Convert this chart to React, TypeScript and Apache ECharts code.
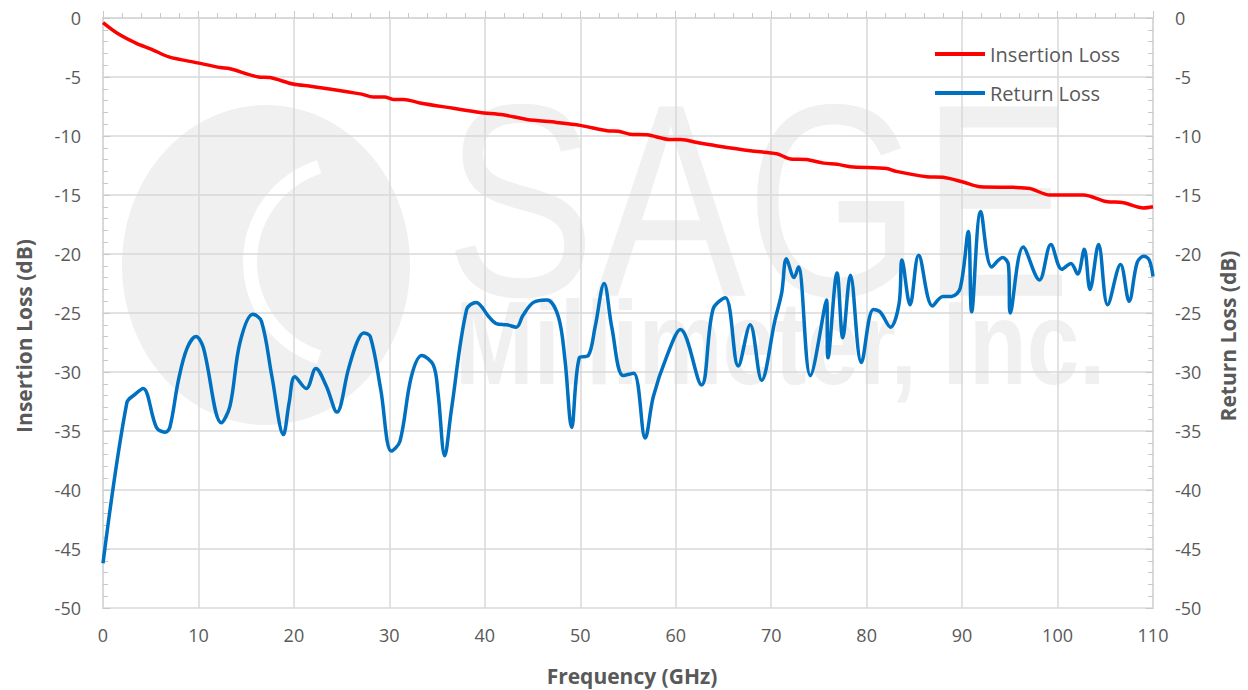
import React, { useEffect, useRef } from "react";
import * as echarts from "echarts";

// Insertion loss (red)
const ilFreq = [0, 1.5, 3.5, 5.1, 6.9, 9.9, 12.3, 13.3, 16.3, 17.5, 19.9, 21.9, 25.9, 27.1, 28.3, 29.5, 30.4, 31.5, 33.2, 36.7, 39.5, 41.9, 44.4, 47.5, 50.0, 52.8, 54.0, 55.2, 57.0, 59.4, 60.5, 62.5, 63.6, 67.8, 70.6, 72.0, 73.7, 75.5, 76.9, 78.3, 82.1, 83.1, 86.3, 88.0, 90.1, 91.9, 95.4, 97.1, 99.2, 102.7, 105.1, 106.9, 109.0, 110];
const ilDb = [-0.4, -1.3, -2.15, -2.65, -3.3, -3.8, -4.2, -4.3, -5.0, -5.05, -5.6, -5.8, -6.3, -6.45, -6.7, -6.7, -6.9, -6.9, -7.2, -7.65, -8.0, -8.2, -8.6, -8.85, -9.1, -9.55, -9.6, -9.85, -9.9, -10.3, -10.3, -10.6, -10.75, -11.25, -11.5, -11.95, -12.0, -12.3, -12.4, -12.6, -12.75, -13.0, -13.45, -13.5, -13.9, -14.3, -14.35, -14.45, -15.0, -15.0, -15.55, -15.65, -16.1, -16.0];

// Return loss (blue)
const rlFreq = [0, 2.5, 3.35, 4.2, 5.6, 6.5, 7.0, 7.9, 8.8, 9.75, 10.5, 12.4, 13.3, 14.35, 15.7, 16.6, 17.7, 18.9, 19.5, 20.1, 21.3, 22.3, 23.4, 24.5, 25.7, 26.6, 27.3, 28.0, 29.1, 30.2, 31.1, 32.3, 33.4, 34.6, 35.1, 35.8, 36.5, 38.1, 39.1, 40.4, 41.2, 42.3, 43.3, 44.0, 45.1, 46.5, 47.7, 48.4, 49.1, 49.9, 50.85, 51.55, 52.5, 53.3, 54.5, 55.6, 56.8, 57.65, 59.05, 60.5, 62.7, 63.9, 65.2, 66.55, 67.8, 69.0, 70.4, 71.1, 71.6, 72.4, 72.85, 74.1, 75.8, 75.95, 76.9, 77.5, 78.3, 79.45, 80.7, 81.4, 82.5, 83.4, 83.7, 84.55, 85.45, 86.9, 88.0, 88.9, 89.8, 90.65, 91.0, 91.95, 93.1, 94.25, 94.85, 95.05, 96.4, 98.1, 99.3, 100.45, 101.4, 102.1, 102.8, 103.4, 104.3, 105.25, 106.6, 107.5, 108.35, 109.05, 109.6, 110];
const rlDb = [-46.2, -32.6, -31.9, -31.4, -34.7, -35.1, -34.7, -30.7, -28.0, -27.0, -27.9, -34.3, -32.9, -27.5, -25.1, -25.7, -30.4, -35.3, -32.6, -30.4, -31.4, -29.7, -31.2, -33.4, -29.8, -27.5, -26.7, -27.0, -31.5, -36.7, -35.9, -30.4, -28.6, -29.4, -31.8, -37.1, -33.2, -24.7, -24.1, -25.3, -25.9, -26.0, -26.2, -25.2, -24.1, -23.9, -25.3, -29.0, -34.7, -28.8, -28.6, -26.2, -22.5, -26.2, -30.3, -30.1, -35.6, -32.1, -28.7, -26.4, -31.1, -24.7, -23.7, -29.5, -26.0, -30.7, -25.6, -23.3, -20.4, -22.0, -21.1, -30.3, -23.9, -28.8, -21.6, -27.1, -21.8, -29.2, -24.7, -24.9, -26.2, -24.2, -20.5, -24.3, -20.1, -24.4, -23.6, -23.6, -22.9, -18.1, -24.9, -16.4, -21.1, -20.3, -20.9, -25.0, -19.4, -22.2, -19.2, -21.3, -20.8, -21.7, -19.6, -23.0, -19.2, -24.3, -20.9, -24.0, -20.7, -20.2, -20.5, -21.9];

const seriesNames = ["Insertion Loss", "Return Loss"];
const xTitle = "Frequency (GHz)";
const yLeftTitle = "Insertion Loss (dB)";
const yRightTitle = "Return Loss (dB)";
const watermarkMain = "SAGE";
const watermarkSub = "Millimeter, Inc.";

const FONT = "'Open Sans', 'Liberation Sans', sans-serif";
const TXT = "#595959";
const GRID = "#d9d9d9";
const WM = "#f0f0f0";

export default function App() {
  const ref = useRef<HTMLDivElement>(null);
  useEffect(() => {
    if (!ref.current) return;
    const chart = echarts.init(ref.current, null, { renderer: "svg" });
    const il = ilFreq.map((f, i) => [f, ilDb[i]]);
    const rl = rlFreq.map((f, i) => [f, rlDb[i]]);
    const yAxisCommon = {
      type: "value",
      min: -50,
      max: 0,
      interval: 5,
      axisLine: { show: true, lineStyle: { color: GRID, width: 2 } },
      axisTick: { show: true, inside: true, length: 7, lineStyle: { color: "#c8c8c8" } },
      minorTick: { show: true, splitNumber: 5, length: 5, lineStyle: { color: "#c8c8c8" } },
      axisLabel: { color: TXT, fontFamily: FONT, fontSize: 18, margin: 22 },
    };
    const titleFont = `bold 21px ${FONT}`;
    chart.setOption({
      animation: false,
      backgroundColor: "#ffffff",
      grid: { left: 103, right: 95, top: 18, bottom: 82, containLabel: false },
      graphic: [
        {
          type: "group",
          z: -10,
          silent: true,
          children: [
            { type: "ellipse", shape: { cx: 266, cy: 265, rx: 144, ry: 160 }, style: { fill: WM } },
            {
              type: "arc",
              shape: { cx: 350, cy: 262, r: 100, startAngle: Math.PI * 0.6, endAngle: Math.PI * 1.4, clockwise: true },
              style: { stroke: "#ffffff", lineWidth: 14, fill: "none" },
            },
            {
              type: "group",
              x: 445,
              y: 200,
              scaleX: 0.82,
              children: [
                {
                  type: "text",
                  style: { text: watermarkMain, fill: WM, font: "275px 'Liberation Sans', Arial, sans-serif", textAlign: "left", textVerticalAlign: "middle" },
                },
              ],
            },
            {
              type: "group",
              x: 455,
              y: 343,
              scaleX: 0.8,
              children: [
                {
                  type: "text",
                  style: { text: watermarkSub, fill: WM, font: "bold 118px 'Liberation Sans', Arial, sans-serif", textAlign: "left", textVerticalAlign: "middle" },
                },
              ],
            },
          ],
        },
        {
          type: "text",
          x: 24,
          y: 336,
          rotation: Math.PI / 2,
          silent: true,
          style: { text: yLeftTitle, fill: TXT, font: titleFont, textAlign: "center", textVerticalAlign: "middle" },
        },
        {
          type: "text",
          x: 1228,
          y: 336,
          rotation: Math.PI / 2,
          silent: true,
          style: { text: yRightTitle, fill: TXT, font: titleFont, textAlign: "center", textVerticalAlign: "middle" },
        },
        {
          type: "text",
          x: 632,
          y: 676,
          silent: true,
          style: { text: xTitle, fill: TXT, font: titleFont, textAlign: "center", textVerticalAlign: "middle" },
        },
      ],
      legend: {
        orient: "vertical",
        left: 935,
        top: 44,
        padding: 0,
        itemGap: 19,
        itemWidth: 50,
        itemHeight: 4,
        icon: "rect",
        data: seriesNames,
        textStyle: { color: TXT, fontFamily: FONT, fontSize: 20 },
      },
      xAxis: {
        type: "value",
        min: 0,
        max: 110,
        interval: 10,
        axisLine: { show: true, lineStyle: { color: GRID, width: 2 } },
        axisTick: { show: true, inside: true, length: 7, lineStyle: { color: "#c8c8c8" } },
        minorTick: { show: true, splitNumber: 5, length: 5, lineStyle: { color: "#c8c8c8" } },
        axisLabel: { color: TXT, fontFamily: FONT, fontSize: 18, margin: 18 },
        splitLine: { show: true, lineStyle: { color: GRID, width: 1.5 } },
      },
      yAxis: [
        {
          ...yAxisCommon,
          position: "left",
          splitLine: { show: true, lineStyle: { color: GRID, width: 1.5 } },
        },
        {
          ...yAxisCommon,
          position: "right",
          splitLine: { show: false },
        },
      ],
      series: [
        {
          name: seriesNames[0],
          type: "line",
          data: il,
          yAxisIndex: 0,
          showSymbol: false,
          symbol: "none",
          smooth: 0.3,
          lineStyle: { color: "#ff0000", width: 3.5 },
          itemStyle: { color: "#ff0000" },
          z: 3,
        },
        {
          name: seriesNames[1],
          type: "line",
          data: rl,
          yAxisIndex: 1,
          showSymbol: false,
          symbol: "none",
          smooth: 0.35,
          lineStyle: { color: "#0070c0", width: 3.5 },
          itemStyle: { color: "#0070c0" },
          z: 2,
        },
      ],
    });
    return () => chart.dispose();
  }, []);
  return <div ref={ref} style={{ position: "fixed", left: 0, top: 0, width: 1248, height: 690 }} />;
}
